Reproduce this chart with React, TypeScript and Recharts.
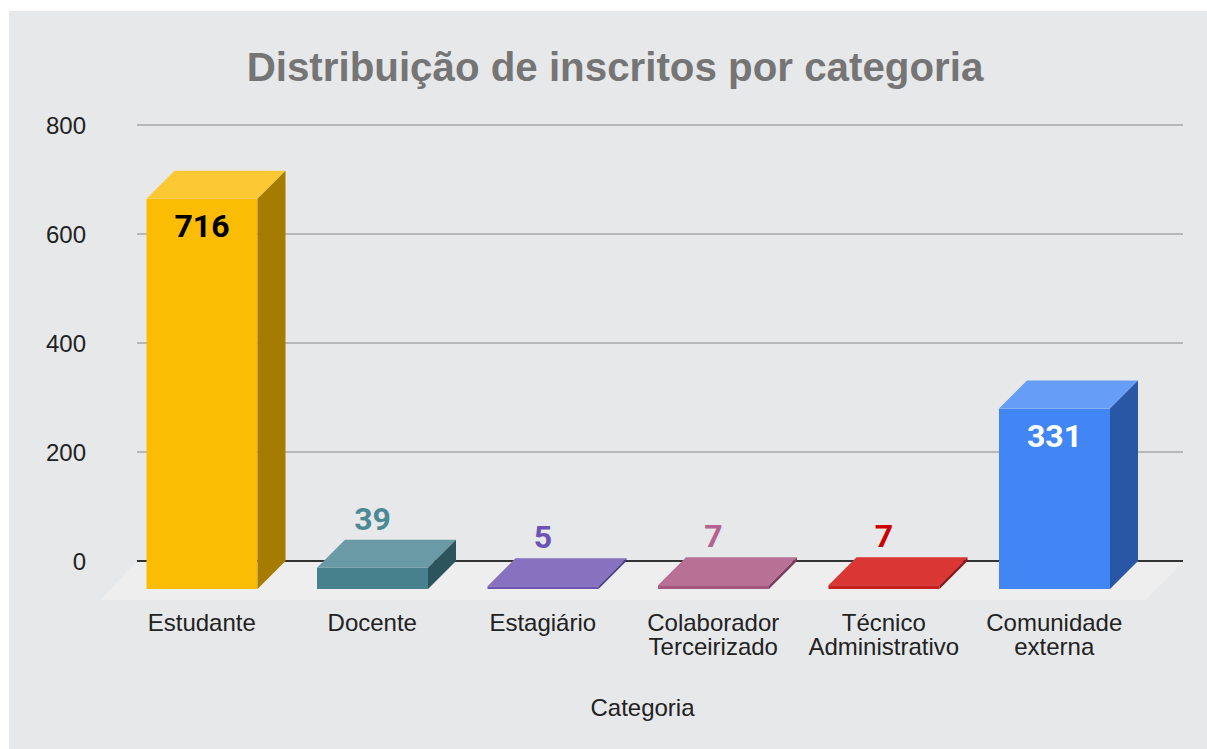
import React from "react";
import { BarChart, Bar, XAxis, YAxis, CartesianGrid, Label } from "recharts";

const categories = [
  "Estudante",
  "Docente",
  "Estagiário",
  "Colaborador Terceirizado",
  "Técnico Administrativo",
  "Comunidade externa",
];
const values = [716, 39, 5, 7, 7, 331];
const yTicks = [0, 200, 400, 600, 800];

const frontColors = ["#FBBC04", "#46818D", "#6C55B2", "#A6577F", "#C91F1F", "#4285F4"];
const topColors = ["#FCC934", "#6A9AA5", "#8672BE", "#B97095", "#D93634", "#669DF6"];
const sideColors = ["#A67C00", "#2C545C", "#4F3E85", "#7A3E5C", "#8E1616", "#2A56A6"];
const labelColors = ["#000000", "#4C8995", "#6B53B4", "#B5628C", "#CC0000", "#FFFFFF"];

const data = categories.map((name, i) => ({ name, value: values[i] }));

const DX = 28; // bar depth (x)
const DY = 28; // bar depth (y)
const FLOOR_DX = 37;
const FLOOR_DY = 39;
const AXIS_FONT = "'Liberation Sans', Arial, sans-serif";
const LABEL_FONT = "Roboto, 'Noto Sans', sans-serif";

const Bar3D = (props: any) => {
  const { x, y, width, height, index } = props;
  const i = index ?? 0;
  const fx = x - DX;
  const fy = y + DY;
  const v = props.payload?.value ?? props.value;
  const inside = height > 50;
  const cx = fx + width / 2;
  return (
    <g>
      <rect x={fx} y={fy} width={width} height={Math.max(height, 0.5)} fill={frontColors[i]} />
      <polygon
        points={`${fx},${fy} ${x},${y} ${x + width},${y} ${fx + width},${fy}`}
        fill={topColors[i]}
      />
      <polygon
        points={`${fx + width},${fy} ${x + width},${y} ${x + width},${y + height} ${fx + width},${fy + height}`}
        fill={sideColors[i]}
      />
      <text
        x={cx}
        y={inside ? fy + 38 : y - 10}
        textAnchor="middle"
        fontFamily={LABEL_FONT}
        fontWeight={700}
        fontSize={32}
        fill={labelColors[i]}
      >
        {v}
      </text>
    </g>
  );
};

const renderHLine = (p: any) => {
  const bottom = p.y != null && p.height != null ? p.y + p.height : null;
  const isZero = bottom != null ? Math.abs(p.y1 - bottom) < 1 : p.index === 0;
  if (isZero) {
    return (
      <g key={p.key}>
        <polygon
          points={`${p.x1},${p.y1} ${p.x2},${p.y1} ${p.x2 - FLOOR_DX},${p.y1 + FLOOR_DY} ${p.x1 - FLOOR_DX},${p.y1 + FLOOR_DY}`}
          fill="#EEEEEE"
        />
        <line x1={p.x1} y1={p.y1} x2={p.x2} y2={p.y2} stroke="#333333" strokeWidth={2} />
      </g>
    );
  }
  return <line key={p.key} x1={p.x1} y1={p.y1} x2={p.x2} y2={p.y2} stroke="#B7B7B7" strokeWidth={2} />;
};

const XTick = (props: any) => {
  const { x, y, payload } = props;
  const words = String(payload.value).split(" ");
  return (
    <text
      x={x - DX}
      y={y + 70}
      textAnchor="middle"
      fontFamily={AXIS_FONT}
      fontSize={24}
      fill="#222222"
    >
      {words.map((w, k) => (
        <tspan key={k} x={x - DX} dy={k === 0 ? 0 : 23.5}>
          {w}
        </tspan>
      ))}
    </text>
  );
};

const YTick = (props: any) => {
  const { x, y, payload } = props;
  return (
    <text x={x} y={y} dy="0.355em" textAnchor="end" fontFamily={AXIS_FONT} fontSize={24} fill="#222222">
      {payload.value}
    </text>
  );
};

const AxisTitle = (props: any) => {
  const vb = props.viewBox || { x: 128, y: 550, width: 1046, height: 188 };
  return (
    <text
      x={vb.x + vb.width / 2 - 17.5}
      y={vb.y + 155}
      textAnchor="middle"
      fontFamily={AXIS_FONT}
      fontSize={24}
      fill="#222222"
    >
      Categoria
    </text>
  );
};

export default function App() {
  return (
    <div
      style={{
        position: "absolute",
        left: 9,
        top: 11,
        width: 1198,
        height: 738,
        background: "#E7E8EA",
        overflow: "hidden",
      }}
    >
      <BarChart
        width={1198}
        height={738}
        data={data}
        margin={{ top: 114, right: 24, left: 0, bottom: 0 }}
      >
        <CartesianGrid vertical={false} horizontal={renderHLine} stroke="#B7B7B7" />
        <XAxis
          dataKey="name"
          height={188}
          axisLine={false}
          tickLine={false}
          tickSize={0}
          tickMargin={0}
          interval={0}
          padding={{ left: 7.5, right: 15.5 }}
          tick={<XTick />}
        >
          <Label content={<AxisTitle />} />
        </XAxis>
        <YAxis
          width={128}
          domain={[0, 800]}
          ticks={yTicks}
          axisLine={false}
          tickLine={false}
          tickSize={0}
          tickMargin={51}
          tick={<YTick />}
        />
        <Bar dataKey="value" barSize={111} isAnimationActive={false} shape={Bar3D} />
      </BarChart>
      <svg
        width={1198}
        height={100}
        style={{ position: "absolute", left: 0, top: 0, pointerEvents: "none" }}
      >
        <text
          x={606}
          y={70}
          textAnchor="middle"
          fontFamily={AXIS_FONT}
          fontWeight={700}
          fontSize={40.3}
          fill="#757575"
        >
          Distribuição de inscritos por categoria
        </text>
      </svg>
    </div>
  );
}
